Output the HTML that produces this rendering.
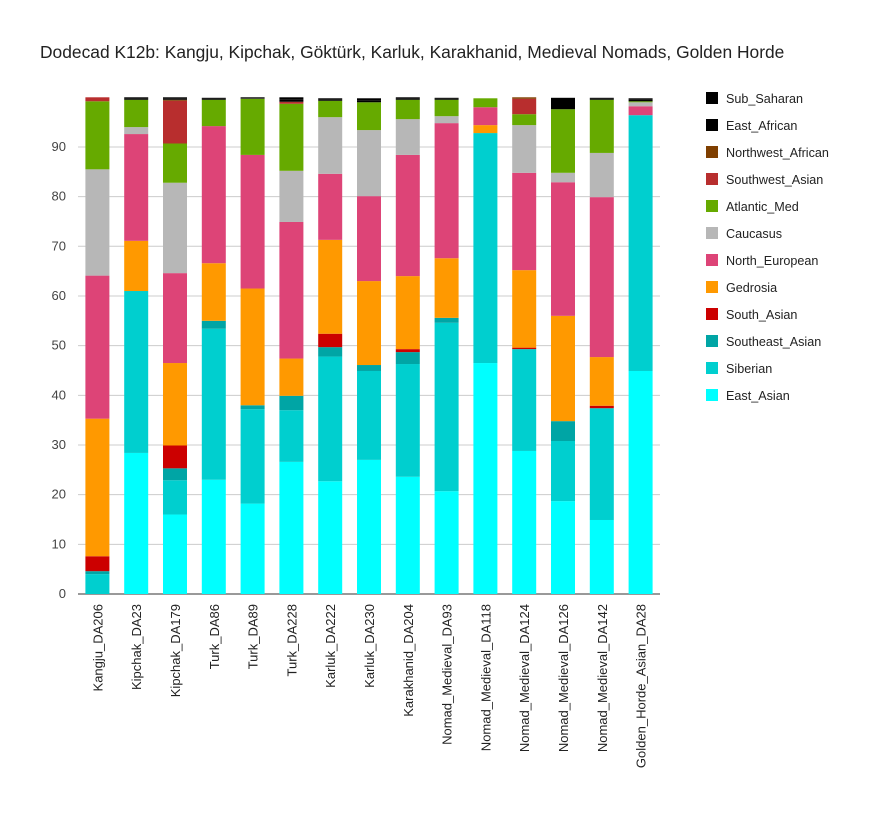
<!DOCTYPE html>
<html><head><meta charset="utf-8"><style>
body{margin:0;background:#fff;font-family:"Liberation Sans",sans-serif}
</style></head><body>
<svg id="c" width="884" height="811" xmlns="http://www.w3.org/2000/svg">
<rect width="884" height="811" fill="#fff"/>
<text x="40" y="58" font-size="17.4" fill="#222" font-family="Liberation Sans, sans-serif">Dodecad K12b: Kangju, Kipchak, Göktürk, Karluk, Karakhanid, Medieval Nomads, Golden Horde</text>
<g id="grid"></g><g id="bars"></g><g id="xl"></g><g id="leg"></g>
</svg>
<script>
const categories=["Kangju_DA206","Kipchak_DA23","Kipchak_DA179","Turk_DA86","Turk_DA89","Turk_DA228","Karluk_DA222","Karluk_DA230","Karakhanid_DA204","Nomad_Medieval_DA93","Nomad_Medieval_DA118","Nomad_Medieval_DA124","Nomad_Medieval_DA126","Nomad_Medieval_DA142","Golden_Horde_Asian_DA28"];
const seriesNames=["East_Asian","Siberian","Southeast_Asian","South_Asian","Gedrosia","North_European","Caucasus","Atlantic_Med","Southwest_Asian","Northwest_African","East_African","Sub_Saharan"];
const seriesColors=["#00ffff","#00cfcf","#00a5a5","#cc0000","#ff9900","#dd4477","#b7b7b7","#66aa00","#b82e2e","#7f3f00","#000000","#000000"];
const East_Asian=[0,28.4,16.0,23.0,18.2,26.6,22.7,27.0,23.6,20.7,46.5,28.8,18.7,14.9,44.9];
const Siberian=[4.0,32.6,6.9,30.4,19.0,10.4,25.1,17.9,22.7,33.9,46.3,20.5,12.1,22.5,51.5];
const Southeast_Asian=[0.6,0,2.4,1.6,0.8,2.9,1.9,1.2,2.4,1.0,0,0,4.0,0,0];
const South_Asian=[3.0,0,4.6,0,0,0,2.7,0,0.6,0,0,0.3,0,0.5,0];
const Gedrosia=[27.7,10.1,16.6,11.6,23.5,7.5,18.9,16.9,14.7,12.0,1.6,15.6,21.2,9.8,0];
const North_European=[28.8,21.5,18.1,27.6,26.9,27.5,13.3,17.1,24.4,27.2,3.6,19.6,26.9,32.2,1.8];
const Caucasus=[21.4,1.4,18.2,0,0,10.3,11.4,13.3,7.2,1.4,0,9.6,1.9,8.9,0.8];
const Atlantic_Med=[13.7,5.5,7.9,5.3,11.3,13.5,3.3,5.6,3.9,3.3,1.8,2.2,12.8,10.7,0.2];
const Southwest_Asian=[0.8,0,8.6,0,0,0.4,0,0,0,0,0,3.1,0,0,0];
const Northwest_African=[0,0,0.2,0,0,0,0,0,0,0,0,0.3,0,0,0];
const East_African=[0,0.2,0.2,0.2,0.1,0.4,0.2,0.4,0.2,0.2,0,0,2.3,0.2,0.4];
const Sub_Saharan=[0,0.3,0.3,0.2,0.2,0.5,0.3,0.4,0.3,0.2,0,0,0,0.2,0.2];
const yTicks=[0,10,20,30,40,50,60,70,80,90];
const series=[East_Asian,Siberian,Southeast_Asian,South_Asian,Gedrosia,North_European,Caucasus,Atlantic_Med,Southwest_Asian,Northwest_African,East_African,Sub_Saharan];
const NS="http://www.w3.org/2000/svg";
const x0=78,x1=660,y0=594,pxPer=4.967,step=(x1-x0)/categories.length,bw=24;
const y=v=>y0-v*pxPer;
const xc=i=>x0+step*(i+0.5);
function mk(t,a,p){const e=document.createElementNS(NS,t);for(const k in a)e.setAttribute(k,a[k]);p.appendChild(e);return e;}
const grid=document.getElementById('grid');
yTicks.forEach(t=>{
 const l=mk('line',{x1:x0,x2:x1,y1:y(t),y2:y(t),stroke:t===0?'#333':'#ccc','stroke-width':1},grid);
 
 
 const tx=mk('text',{x:x0-12,y:y(t)+4,'text-anchor':'end','font-size':13,fill:'#444'},grid);
 tx.textContent=t;
 
 
});
const bars=document.getElementById('bars');
categories.forEach((c,i)=>{
 let cum=0;
 series.forEach((s,j)=>{
  const v=s[i]; if(v<=0)return;
  const r=mk('rect',{x:xc(i)-bw/2,y:y(cum+v),width:bw,height:v*pxPer,fill:seriesColors[j]},bars);
  
  
  cum+=v;
 });
 const t=mk('text',{transform:`translate(${xc(i)+5},${y0+10}) rotate(-90)`,'text-anchor':'end','font-size':13,fill:'#222'},document.getElementById('xl'));
 t.textContent=c;
 
 
});
const leg=document.getElementById('leg');
for(let k=seriesNames.length-1,n=0;k>=0;k--,n++){
 const g=mk('g',{},leg);
 
 
 mk('rect',{x:706,y:92+n*27,width:12,height:12,fill:seriesColors[k]},g);
 const t=mk('text',{x:726,y:103+n*27,'font-size':12.6,fill:'#222'},g);
 t.textContent=seriesNames[k];
}
</script>
</body></html>
